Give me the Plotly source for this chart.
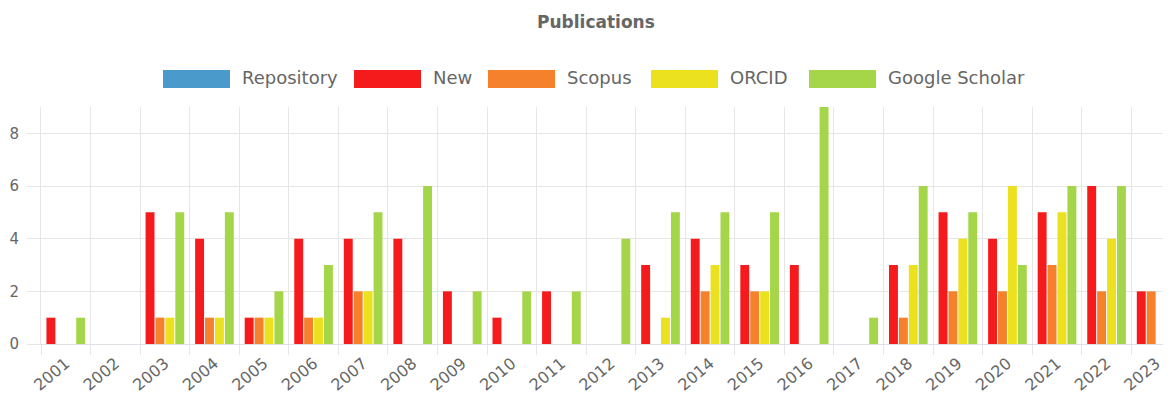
import plotly.graph_objects as go

# ---- data ----
years = [str(y) for y in range(2001, 2024)]
new_vals = [1, 0, 5, 4, 1, 4, 4, 4, 2, 1, 2, 0, 3, 4, 3, 3, 0, 3, 5, 4, 5, 6, 2]
scopus_vals = [0, 0, 1, 1, 1, 1, 2, 0, 0, 0, 0, 0, 0, 2, 2, 0, 0, 1, 2, 2, 3, 2, 2]
orcid_vals = [0, 0, 1, 1, 1, 1, 2, 0, 0, 0, 0, 0, 1, 3, 2, 0, 0, 3, 4, 6, 5, 4, 0]
scholar_vals = [1, 0, 5, 5, 2, 3, 5, 6, 2, 2, 2, 4, 5, 5, 5, 9, 1, 6, 5, 3, 6, 6, 2]

legend_labels = ["Repository", "New", "Scopus", "ORCID", "Google Scholar"]
legend_colors = ["#4a9bcc", "#f51b1d", "#f5812d", "#ece11e", "#a5d64a"]

series = [
    ("New", new_vals, legend_colors[1]),
    ("Scopus", scopus_vals, legend_colors[2]),
    ("ORCID", orcid_vals, legend_colors[3]),
    ("Google Scholar", scholar_vals, legend_colors[4]),
]

OFF = 8  # default body margin of the html page
W, H = 1171 - OFF, 412 - 2 * OFF
# plot area in screen pixels
SL, SR, ST, SB = 41, 1171, 107, 344
PL, PR, PT, PB = SL - OFF, SR - OFF, ST - OFF, SB - OFF


def px_x(x):  # screen px -> paper
    return (x - OFF - PL) / (PR - PL)


def px_y(y):
    return (PB - (y - OFF)) / (PB - PT)


fig = go.Figure()
for name, vals, col in series:
    fig.add_trace(go.Bar(
        x=years, y=vals, name=name,
        marker=dict(color=col, line=dict(width=0)),
        showlegend=False, cliponaxis=True,
    ))

TEXT = "#666666"
GRID = "#e6e6e6"

fig.update_layout(
    width=W, height=H,
    margin=dict(l=PL, r=W - PR, t=PT, b=H - PB, autoexpand=False),
    paper_bgcolor="white", plot_bgcolor="white",
    barmode="group", bargap=0.2, bargroupgap=0.1,
    font=dict(family="DejaVu Sans", color=TEXT),
    xaxis=dict(
        type="category", range=[-0.5, 22.3],
        tickson="boundaries", ticks="outside", ticklen=10, tickcolor=GRID,
        showgrid=True, gridcolor=GRID, gridwidth=1,
        tickangle=-40, tickfont=dict(size=16, color=TEXT, family="DejaVu Sans"),
        ticklabelstandoff=3,
        showline=True, linecolor="#dde0e6", linewidth=1,
        automargin=False, fixedrange=True,
    ),
    yaxis=dict(
        range=[0, 9], tickvals=[0, 2, 4, 6, 8],
        ticks="outside", ticklen=13, tickcolor=GRID,
        showgrid=True, gridcolor=GRID, gridwidth=1,
        zeroline=False,
        showline=True, linecolor=GRID, linewidth=1,
        tickfont=dict(size=15, color=TEXT, family="DejaVu Sans"),
        ticklabelstandoff=5,
        automargin=False, fixedrange=True,
    ),
)

# title
fig.add_annotation(
    text="<b>Publications</b>", xref="paper", yref="paper",
    x=px_x(596), y=px_y(22), xanchor="center", yanchor="middle",
    showarrow=False, font=dict(size=17, color=TEXT, family="DejaVu Sans"),
)

# custom legend (wide colour boxes as in the reference)
box_lefts = [163, 354, 488, 651, 809]
box_w = 67
for lbl, col, bx in zip(legend_labels, legend_colors, box_lefts):
    fig.add_shape(
        type="rect", xref="paper", yref="paper",
        x0=px_x(bx), x1=px_x(bx + box_w), y0=px_y(88), y1=px_y(70),
        fillcolor=col, line=dict(width=0), layer="above",
    )
    fig.add_annotation(
        text=lbl, xref="paper", yref="paper",
        x=px_x(bx + box_w + 10), y=px_y(77), xanchor="left", yanchor="middle",
        showarrow=False, font=dict(size=18, color=TEXT, family="DejaVu Sans"),
    )

fig.write_html(
    "out.html",
    post_script="document.documentElement.style.overflow='hidden';"
                "document.body.style.overflow='hidden';",
)
